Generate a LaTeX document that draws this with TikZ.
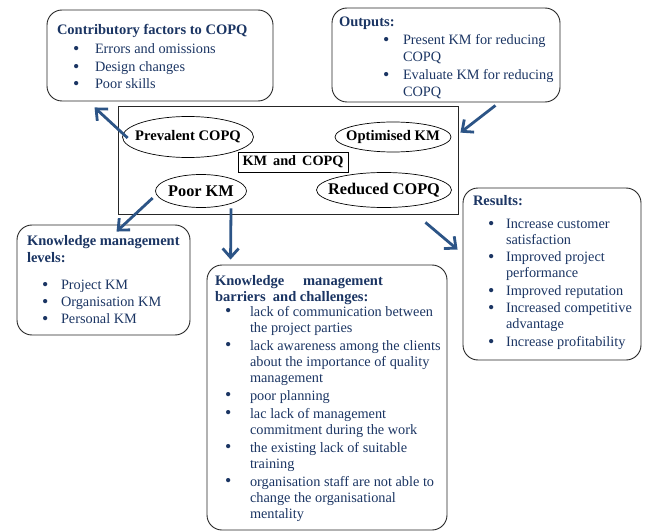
\documentclass[tikz,border=0pt]{standalone}
\usepackage{fontspec}
\usepackage{graphicx}
\setmainfont{Liberation Serif}
\usetikzlibrary{shapes.geometric,arrows.meta,calc}
\definecolor{navy}{HTML}{1B3563}
\definecolor{arrowc}{HTML}{2C5486}
\newlength\bulgap
\newcommand{\kmhead}[3]{\leftskip=#1\rightskip=-20pt plus 1fil\parskip=0pt\noindent\rule{0pt}{#2}\textbf{\fontsize{14.5}{17}\selectfont #3}\par}
\newcommand{\kmitem}[1]{\par\noindent\llap{\makebox[\bulgap][l]{\raisebox{-0.15ex}{\scalebox{1.25}{\textbullet}}}}#1}

\begin{document}
\begin{tikzpicture}[x=1pt,y=-1pt,panel/.style={draw=black!85,line width=0.9pt,rounded corners=15pt,inner sep=0pt,text=navy},oval/.style={ellipse,draw=black,line width=0.7pt,inner sep=0pt,font=\bfseries\fontsize{14.6}{16}\selectfont},ovalL/.style={oval,font=\bfseries\fontsize{16.3}{18}\selectfont},flow/.style={draw=arrowc,line width=2.8pt,-{Straight Barb[length=9pt,width=16pt]}}]
\useasboundingbox (0,0) rectangle (648,532);

\node[draw=black!85,line width=0.8pt,minimum width=340,minimum height=108,inner sep=0pt] (core) at (288,160) {};

\node[oval,minimum width=131,minimum height=41] (prev) at (188,137) {\makebox[0pt]{Prevalent COPQ}};
\node[oval,minimum width=116,minimum height=30] (opt) at (393,137) {\makebox[0pt]{Optimised KM}};
\node[ovalL,minimum width=91,minimum height=33] (poor) at (201,191) {\makebox[0pt]{Poor KM}};
\node[ovalL,minimum width=135,minimum height=35] (red) at (384,190) {\makebox[0pt]{Reduced COPQ}};
\node[draw=black,line width=0.8pt,minimum width=110,minimum height=20,inner sep=0pt,font=\bfseries\fontsize{14.3}{16}\selectfont] (kc) at (293,162) {KM\hspace{6pt}and\hspace{6pt}COPQ};

\node[panel] (contrib) at (160,55.5) {\parbox[c][91pt][t]{226pt}{\fontsize{14.3}{17.5}\selectfont
\kmhead{10pt}{25pt}{Contributory factors to COPQ}
\leftskip=48pt\bulgap=22pt\vspace{1.5pt}
\kmitem{Errors and omissions}
\kmitem{Design changes}
\kmitem{Poor skills}}};

\node[panel] (outp) at (446,55) {\parbox[c][94pt][t]{228pt}{\fontsize{14.3}{17}\selectfont
\kmhead{7pt}{19pt}{Outputs:}
\leftskip=71pt\bulgap=20pt\parskip=1pt
\kmitem{Present KM for reducing\\COPQ}
\kmitem{Evaluate KM for reducing\\COPQ}}};

\node[panel] (levels) at (103.5,280) {\parbox[c][110pt][t]{173pt}{\fontsize{14.3}{17.2}\selectfont
\kmhead{10pt}{20.7pt}{Knowledge management\\levels:}
\leftskip=44pt\bulgap=19pt\vspace{9pt}
\kmitem{Project KM}
\kmitem{Organisation KM}
\kmitem{Personal KM}}};

\node[panel] (barr) at (327,397.5) {\parbox[c][265pt][t]{240pt}{\fontsize{14.3}{16}\selectfont
\kmhead{8pt}{20pt}{Knowledge\hspace{1.3em}management\\barriers\ \ and challenges:}
\leftskip=43pt\bulgap=25pt\parskip=2pt\vspace{-3pt}
\kmitem{lack of communication between\\the project parties}
\kmitem{lack awareness among the clients\\about the importance of quality\\management}
\kmitem{poor planning}
\kmitem{lac lack of management\\commitment during the work}
\kmitem{the existing lack of suitable\\training}
\kmitem{organisation staff are not able to\\change the organisational\\mentality}}};

\node[panel] (res) at (552,274) {\parbox[c][172pt][t]{178pt}{\fontsize{14.3}{16}\selectfont
\kmhead{10pt}{17.7pt}{Results:}
\leftskip=43pt\bulgap=18pt\parskip=1.5pt\vspace{5pt}
\kmitem{Increase customer\\satisfaction}
\kmitem{Improved project\\performance}
\kmitem{Improved reputation}
\kmitem{Increased competitive\\advantage}
\kmitem{Increase profitability}}};

\draw[flow] ($(prev.west)+(5.5,1)$) -- ($(contrib.south west)+(48,6)$);
\draw[flow] ($(outp.south east)+(-65,3)$) -- ($(core.north east)+(2,27)$);
\draw[flow] ($(poor.west)+(-2.5,7)$) -- ($(levels.north west)+(100,7)$);
\draw[flow] ($(poor.south)+(30,0.5)$) -- ($(barr.north west)+(24,-5)$);
\draw[flow] ($(core.south east)+(-33,8)$) -- ($(res.north west)+(-5,62)$);
\end{tikzpicture}
\end{document}
